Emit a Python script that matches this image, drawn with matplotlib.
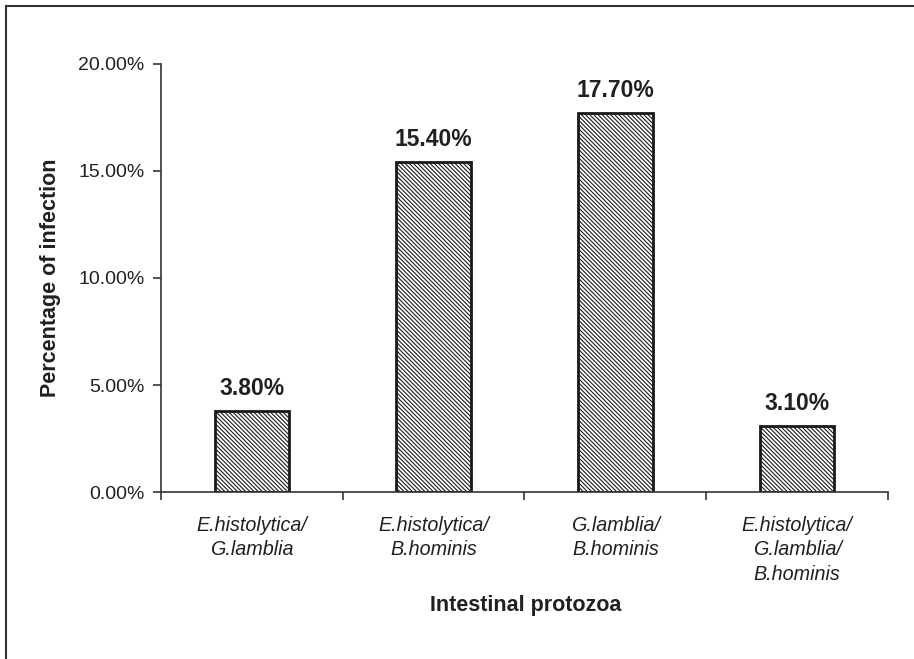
import matplotlib.pyplot as plt
from matplotlib.lines import Line2D
from matplotlib.ticker import FuncFormatter

plt.rcParams["font.family"] = ["Liberation Sans", "DejaVu Sans"]
plt.rcParams["hatch.linewidth"] = 0.8
plt.rcParams["hatch.color"] = "#4a4a4a"

# infection combinations and their rates (%)
categories = [
    "E.histolytica/\nG.lamblia",
    "E.histolytica/\nB.hominis",
    "G.lamblia/\nB.hominis",
    "E.histolytica/\nG.lamblia/\nB.hominis",
]
rates = [3.80, 15.40, 17.70, 3.10]
yticks = [0, 5, 10, 15, 20]

ink = "#231f20"

fig = plt.figure(figsize=(9.14, 6.59), dpi=100)
ax = fig.add_axes([0.1761, 0.2534, 0.7955, 0.6495])

x = list(range(len(categories)))
bars = ax.bar(x, rates, width=0.41, color="white", edgecolor="#1a1a1a",
              linewidth=2.0, hatch="\\" * 8)

for b, v in zip(bars, rates):
    ax.annotate("%.2f%%" % v, (b.get_x() + b.get_width() / 2, v),
                xytext=(0, 8), textcoords="offset points", ha="center",
                va="bottom", fontsize=16.5, fontweight="bold", color=ink)

ax.set_xlim(-0.5, len(categories) - 0.5)
ax.set_ylim(0, 20)
ax.set_yticks(yticks)
ax.yaxis.set_major_formatter(FuncFormatter(lambda v, p: "%.2f%%" % v))
ax.set_xticks([i - 0.5 for i in range(len(categories) + 1)], minor=False)
ax.set_xticklabels([])
ax.set_xticks(x, minor=True)
ax.set_xticklabels(categories, minor=True, fontstyle="italic", fontsize=14.2,
                   color=ink, linespacing=1.38)
ax.tick_params(axis="x", which="minor", length=0, pad=17)
ax.tick_params(axis="x", which="major", length=6, width=1.2, color="#333333")
ax.tick_params(axis="y", length=6, width=1.2, color="#333333", labelsize=14,
               labelcolor=ink, pad=6)

for s in ["top", "right"]:
    ax.spines[s].set_visible(False)
for s in ["left", "bottom"]:
    ax.spines[s].set_linewidth(1.2)
    ax.spines[s].set_color("#333333")

ax.set_ylabel("Percentage of infection", fontsize=15.5, fontweight="bold",
              color=ink, labelpad=12)
fig.text(0.5755, 1 - 605 / 659, "Intestinal protozoa", ha="center",
         va="center", fontsize=15.5, fontweight="bold", color=ink)

# frame lines along the top and left edges
fig.add_artist(Line2D([6 / 914, 1], [1 - 6 / 659, 1 - 6 / 659],
                      transform=fig.transFigure, color="#333333", lw=1.5))
fig.add_artist(Line2D([6 / 914, 6 / 914], [0, 1 - 6 / 659],
                      transform=fig.transFigure, color="#333333", lw=1.5))

fig.savefig("out.png", dpi=100)
